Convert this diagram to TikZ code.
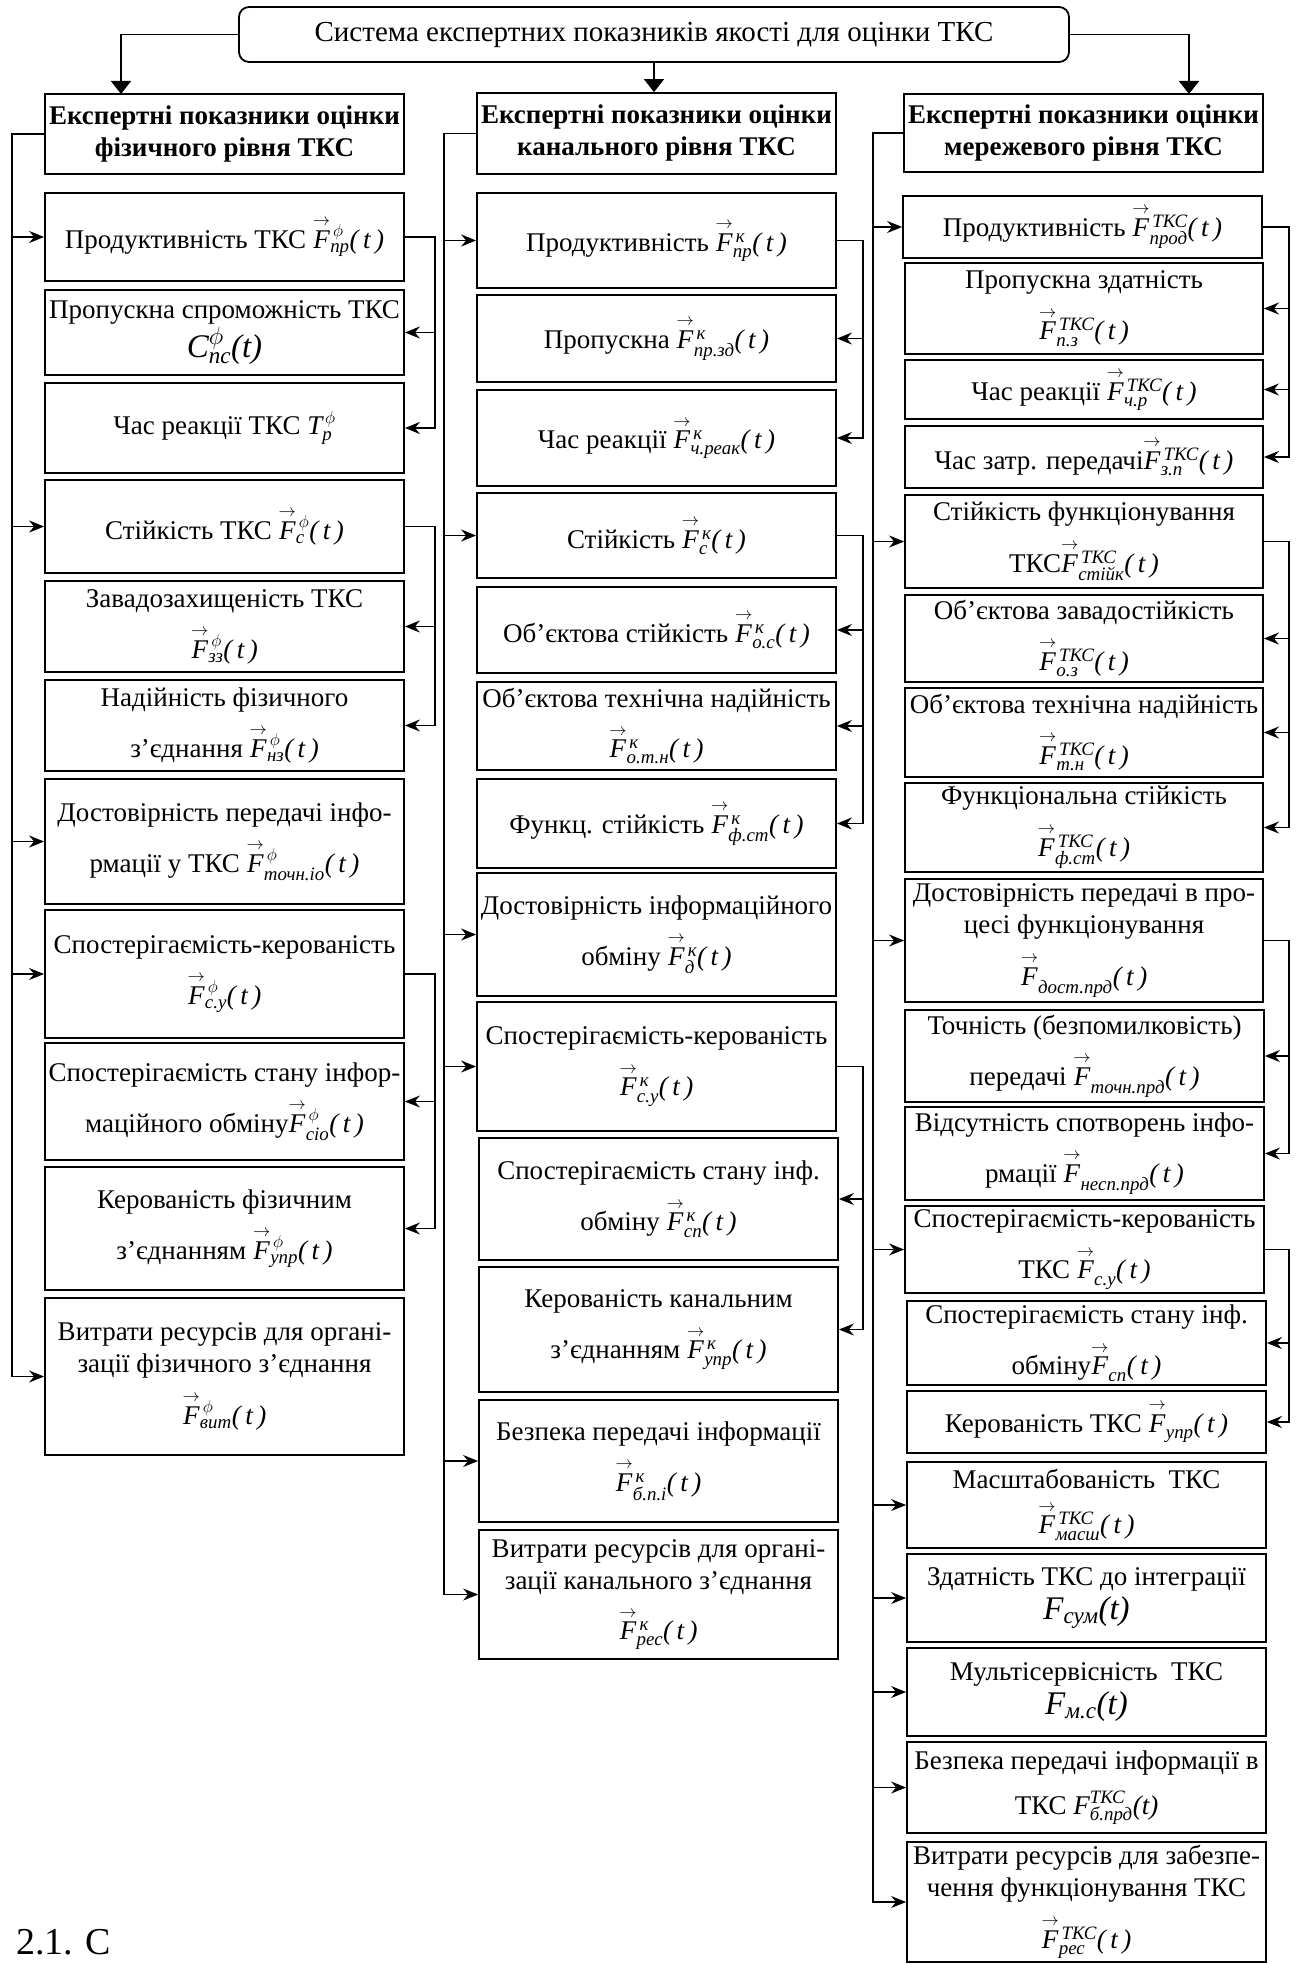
\documentclass[tikz,border=0pt]{standalone}
\usepackage{amsmath}
\usepackage{fontspec}
\setmainfont{Liberation Serif}
\usetikzlibrary{arrows.meta}

% vector indicator  F^{sup}_{sub}(t)
\newcommand\vF[2]{$\overset{\rightarrow}{\textit{F}}{}^{\,#1}_{\textit{#2}}\textit{(\,t\,)}$}
% line break before a line that carries a formula
\newcommand\fl{\\[13pt]}
% larger formula text
\newcommand\bigf[1]{{\fontsize{33}{33}\selectfont #1}}
% box given by its corners: name, x1, y1, x2, y2, text
\newcommand\bx[6]{\node[box, minimum width={#4pt-#2pt}, minimum height={#5pt-#3pt}] (#1) at ({(#2+#4)/2},{(#3+#5)/2}) {#6};}

\tikzset{
  box/.style={draw, line width=1.8pt, align=center, inner sep=1pt,
              font=\fontsize{27}{32}\selectfont},
  link/.style={line width=1.4pt},
  arr/.style={link, -{Stealth[length=15pt,width=12pt,inset=5pt]}},
  bigarr/.style={link, -{Triangle[length=13pt,width=20pt]}},
  caption/.style={font=\fontsize{38}{44}\selectfont, anchor=base west, inner sep=0pt}
}

\begin{document}
\begin{tikzpicture}[x=1pt, y=-1pt]
\useasboundingbox[fill=white] (0,0) rectangle (1301,1964);

% ---------- root ----------
\node[box, rounded corners=10pt, minimum width=830pt, minimum height=55pt,
      font=\fontsize{29}{34}\selectfont] (title)
  at (654,34.5) {Система експертних показників якості для оцінки ТКС};

% ---------- physical level ----------
\bx{A0}{45}{94}{404}{174}{\textbf{Експертні показники оцінки}\\\textbf{фізичного рівня ТКС}}
\bx{A1}{45}{193}{404}{281}{Продуктивність ТКС \vF{\phi}{пр}}
\bx{A2}{45}{290}{404}{375}{Пропускна спроможність ТКС\\[2pt]\bigf{$\textit{C}^{\phi}_{\textit{пс}}\textit{(t)}$}}
\bx{A3}{45}{383}{404}{473}{Час реакції ТКС $\textit{T}^{\,\phi}_{\textit{p}}$}
\bx{A4}{45}{480}{404}{573}{Стійкість ТКС \vF{\phi}{c}}
\bx{A5}{45}{581}{404}{672}{Завадозахищеність ТКС\fl\vF{\phi}{зз}}
\bx{A6}{45}{680}{404}{771}{Надійність фізичного\fl з’єднання \vF{\phi}{нз}}
\bx{A7}{45}{779}{404}{904}{Достовірність передачі інфо-\fl рмації у ТКС \vF{\phi}{точн.іо}}
\bx{A8}{45}{910}{404}{1038}{Спостерігаємість-керованість\fl\vF{\phi}{c.y}}
\bx{A9}{45}{1043}{404}{1160}{Спостерігаємість стану інфор-\fl маційного обміну\vF{\phi}{сіо}}
\bx{A10}{45}{1167}{404}{1290}{Керованість фізичним\fl з’єднанням \vF{\phi}{упр}}
\bx{A11}{45}{1298}{404}{1455}{Витрати ресурсів для органі-\\зації фізичного з’єднання\fl\vF{\phi}{вит}}

% ---------- channel level ----------
\bx{B0}{477}{93}{836}{174}{\textbf{Експертні показники оцінки}\\\textbf{канального рівня ТКС}}
\bx{B1}{477}{193}{836}{288}{Продуктивність \vF{\textit{к}}{пр}}
\bx{B2}{477}{295}{836}{382}{Пропускна \vF{\textit{к}}{пр.зд}}
\bx{B3}{477}{390}{836}{486}{Час реакції \vF{\textit{к}}{ч.реак}}
\bx{B4}{477}{493}{836}{578}{Стійкість \vF{\textit{к}}{c}}
\bx{B5}{477}{587}{836}{673}{Об’єктова стійкість \vF{\textit{к}}{о.с}}
\bx{B6}{477}{682}{836}{770}{Об’єктова технічна надійність\fl\vF{\textit{к}}{о.т.н}}
\bx{B7}{477}{779}{836}{868}{Функц. стійкість \vF{\textit{к}}{ф.ст}}
\bx{B8}{477}{873}{836}{996}{Достовірність інформаційного\fl обміну \vF{\textit{к}}{д}}
\bx{B9}{477}{1002}{836}{1131}{Спостерігаємість-керованість\fl\vF{\textit{к}}{с.у}}
\bx{B10}{479}{1138}{838}{1260}{Спостерігаємість стану інф.\fl обміну \vF{\textit{к}}{сп}}
\bx{B11}{479}{1267}{838}{1392}{Керованість канальним\fl з’єднанням \vF{\textit{к}}{упр}}
\bx{B12}{479}{1400}{838}{1522}{Безпека передачі інформації\fl\vF{\textit{к}}{б.п.і}}
\bx{B13}{479}{1530}{838}{1659}{Витрати ресурсів для органі-\\зації канального з’єднання\fl\vF{\textit{к}}{рес}}

% ---------- network level ----------
\bx{C0}{904}{94}{1263}{172}{\textbf{Експертні показники оцінки}\\\textbf{мережевого рівня ТКС}}
\bx{C1}{903}{196}{1262}{258}{Продуктивність \vF{\textit{ТКС}}{прод}}
\bx{C2}{905}{263}{1263}{354}{Пропускна здатність\fl\vF{\textit{ТКС}}{п.з}}
\bx{C3}{905}{360}{1263}{419}{Час реакції \vF{\textit{ТКС}}{ч.р}}
\bx{C4}{905}{426}{1263}{488}{Час затр. передачі\vF{\textit{ТКС}}{з.п}}
\bx{C5}{905}{495}{1263}{588}{Стійкість функціонування\fl ТКС\vF{\textit{ТКС}}{стійк}}
\bx{C6}{905}{595}{1263}{682}{Об’єктова завадостійкість\fl\vF{\textit{ТКС}}{о.з}}
\bx{C7}{905}{688}{1263}{777}{Об’єктова технічна надійність\fl\vF{\textit{ТКС}}{т.н}}
\bx{C8}{905}{783}{1263}{872}{Функціональна стійкість\fl\vF{\textit{ТКС}}{ф.ст}}
\bx{C9}{905}{879}{1263}{1002}{Достовірність передачі в про-\\цесі функціонування\fl\vF{}{дост.прд}}
\bx{C10}{905}{1010}{1264}{1102}{Точність (безпомилковість)\fl передачі \vF{}{точн.прд}}
\bx{C11}{905}{1107}{1264}{1200}{Відсутність спотворень інфо-\fl рмації \vF{}{несп.прд}}
\bx{C12}{905}{1206}{1264}{1293}{Спостерігаємість-керованість\fl ТКС \vF{}{с.у}}
\bx{C13}{907}{1301}{1266}{1385}{Спостерігаємість стану інф.\fl обміну\vF{}{сп}}
\bx{C14}{907}{1391}{1266}{1453}{Керованість ТКС \vF{}{упр}}
\bx{C15}{907}{1462}{1266}{1548}{Масштабованість~ ТКС\fl\vF{\textit{ТКС}}{масш}}
\bx{C16}{907}{1554}{1266}{1642}{Здатність ТКС до інтеграції\\[2pt]\bigf{$\textit{F}_{\textit{сум}}\textit{(t)}$}}
\bx{C17}{907}{1648}{1266}{1736}{Мультісервісність~ ТКС\\[2pt]\bigf{$\textit{F}_{\textit{м.с}}\textit{(t)}$}}
\bx{C18}{907}{1742}{1266}{1833}{Безпека передачі інформації в\fl ТКС $\textit{F}^{\textit{ТКС}}_{\textit{б.прд}}\textit{(t)}$}
\bx{C19}{907}{1842}{1266}{1962}{Витрати ресурсів для забезпе-\\чення функціонування ТКС\fl\vF{\textit{ТКС}}{рес}}

% ---------- caption ----------
\node[caption] (cap) at (16,1954) {2.1. С};

% ---------- vertical rails ----------
\coordinate (s1) at (12,0);   \coordinate (r1) at (435,0);
\coordinate (s2) at (444,0);  \coordinate (r2) at (863,0);
\coordinate (s3) at (873,0);  \coordinate (r3) at (1289,0);
\coordinate (t1) at (121,94); \coordinate (t3) at (1189,94);

% root to the three levels
\draw[bigarr] (title.west) -| (t1);
\draw[bigarr] (title.south) -- (title.south |- B0.north);
\draw[bigarr] (title.east) -| (t3);

% physical level: left rail
\draw[arr] (A0.west) -| (s1 |- A11.west) -- (A11.west);
\foreach \n in {A1,A4,A7,A8} \draw[arr] (s1 |- \n.west) -- (\n.west);
% physical level: right brackets
\draw[arr] (A1.east) -| (r1 |- A3.east) -- (A3.east);
\draw[arr] (r1 |- A2.east) -- (A2.east);
\draw[arr] (A4.east) -| (r1 |- A6.east) -- (A6.east);
\draw[arr] (r1 |- A5.east) -- (A5.east);
\draw[arr] (A8.east) -| (r1 |- A10.east) -- (A10.east);
\draw[arr] (r1 |- A9.east) -- (A9.east);

% channel level: left rail
\draw[arr] (B0.west) -| (s2 |- B13.west) -- (B13.west);
\foreach \n in {B1,B4,B8,B9,B12} \draw[arr] (s2 |- \n.west) -- (\n.west);
% channel level: right brackets
\draw[arr] (B1.east) -| (r2 |- B3.east) -- (B3.east);
\draw[arr] (r2 |- B2.east) -- (B2.east);
\draw[arr] (B4.east) -| (r2 |- B7.east) -- (B7.east);
\foreach \n in {B5,B6} \draw[arr] (r2 |- \n.east) -- (\n.east);
\draw[arr] (B9.east) -| (r2 |- B11.east) -- (B11.east);
\draw[arr] (r2 |- B10.east) -- (B10.east);

% network level: left rail
\draw[arr] (C0.west) -| (s3 |- C19.west) -- (C19.west);
\foreach \n in {C1,C5,C9,C12,C15,C16,C17,C18} \draw[arr] (s3 |- \n.west) -- (\n.west);
% network level: right brackets
\draw[arr] (C1.east) -| (r3 |- C4.east) -- (C4.east);
\foreach \n in {C2,C3} \draw[arr] (r3 |- \n.east) -- (\n.east);
\draw[arr] (C5.east) -| (r3 |- C8.east) -- (C8.east);
\foreach \n in {C6,C7} \draw[arr] (r3 |- \n.east) -- (\n.east);
\draw[arr] (C9.east) -| (r3 |- C11.east) -- (C11.east);
\draw[arr] (r3 |- C10.east) -- (C10.east);
\draw[arr] (C12.east) -| (r3 |- C14.east) -- (C14.east);
\draw[arr] (r3 |- C13.east) -- (C13.east);
\end{tikzpicture}
\end{document}
